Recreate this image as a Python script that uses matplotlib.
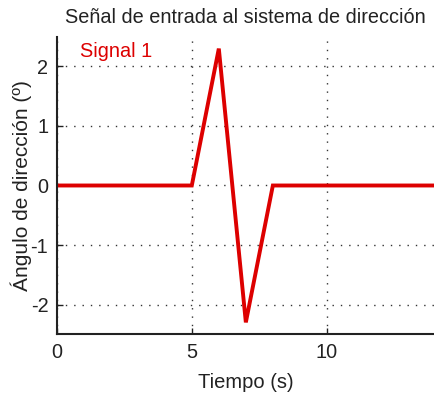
import matplotlib
matplotlib.use("Agg")
import matplotlib.pyplot as plt

t = [0, 5, 6, 7, 8, 14]
angle = [0, 0, 2.3, -2.3, 0, 0]
xticks = [0, 5, 10]
yticks = [-2, -1, 0, 1, 2]

plt.rcParams['font.family'] = ['Liberation Sans', 'DejaVu Sans']
plt.rcParams['axes.unicode_minus'] = False

fig = plt.figure(figsize=(4.35, 3.93), dpi=100)
ax = fig.add_axes([0.1303, 0.1494, 0.8697, 0.7572])
ax.plot(t, angle, color='#dd0000', lw=2.8, solid_joinstyle='miter')
ax.set_xlim(0, 14)
ax.set_ylim(-2.5, 2.5)
ax.set_xticks(xticks)
ax.set_yticks(yticks)
ax.tick_params(direction='in', length=4, labelsize=14.3, width=1, pad=6, colors='#222222')
ax.grid(True, linestyle=(0, (1, 5)), color='#333333', linewidth=1)
for s in ['top', 'right']:
    ax.spines[s].set_visible(False)
for s in ['left', 'bottom']:
    ax.spines[s].set_linewidth(1.5)
    ax.spines[s].set_color('#222222')
ax.set_title('Señal de entrada al sistema de dirección', fontsize=14.3, pad=10, color='#222222')
ax.set_xlabel('Tiempo (s)', fontsize=14.5, labelpad=8, color='#222222')
ax.set_ylabel('Ángulo de dirección (º)', fontsize=15, labelpad=-1, color='#222222')
ax.text(0.85, 2.25, 'Signal 1', color='#dd0000', fontsize=14.3, va='center', ha='left')
fig.savefig('out.png', dpi=100)
